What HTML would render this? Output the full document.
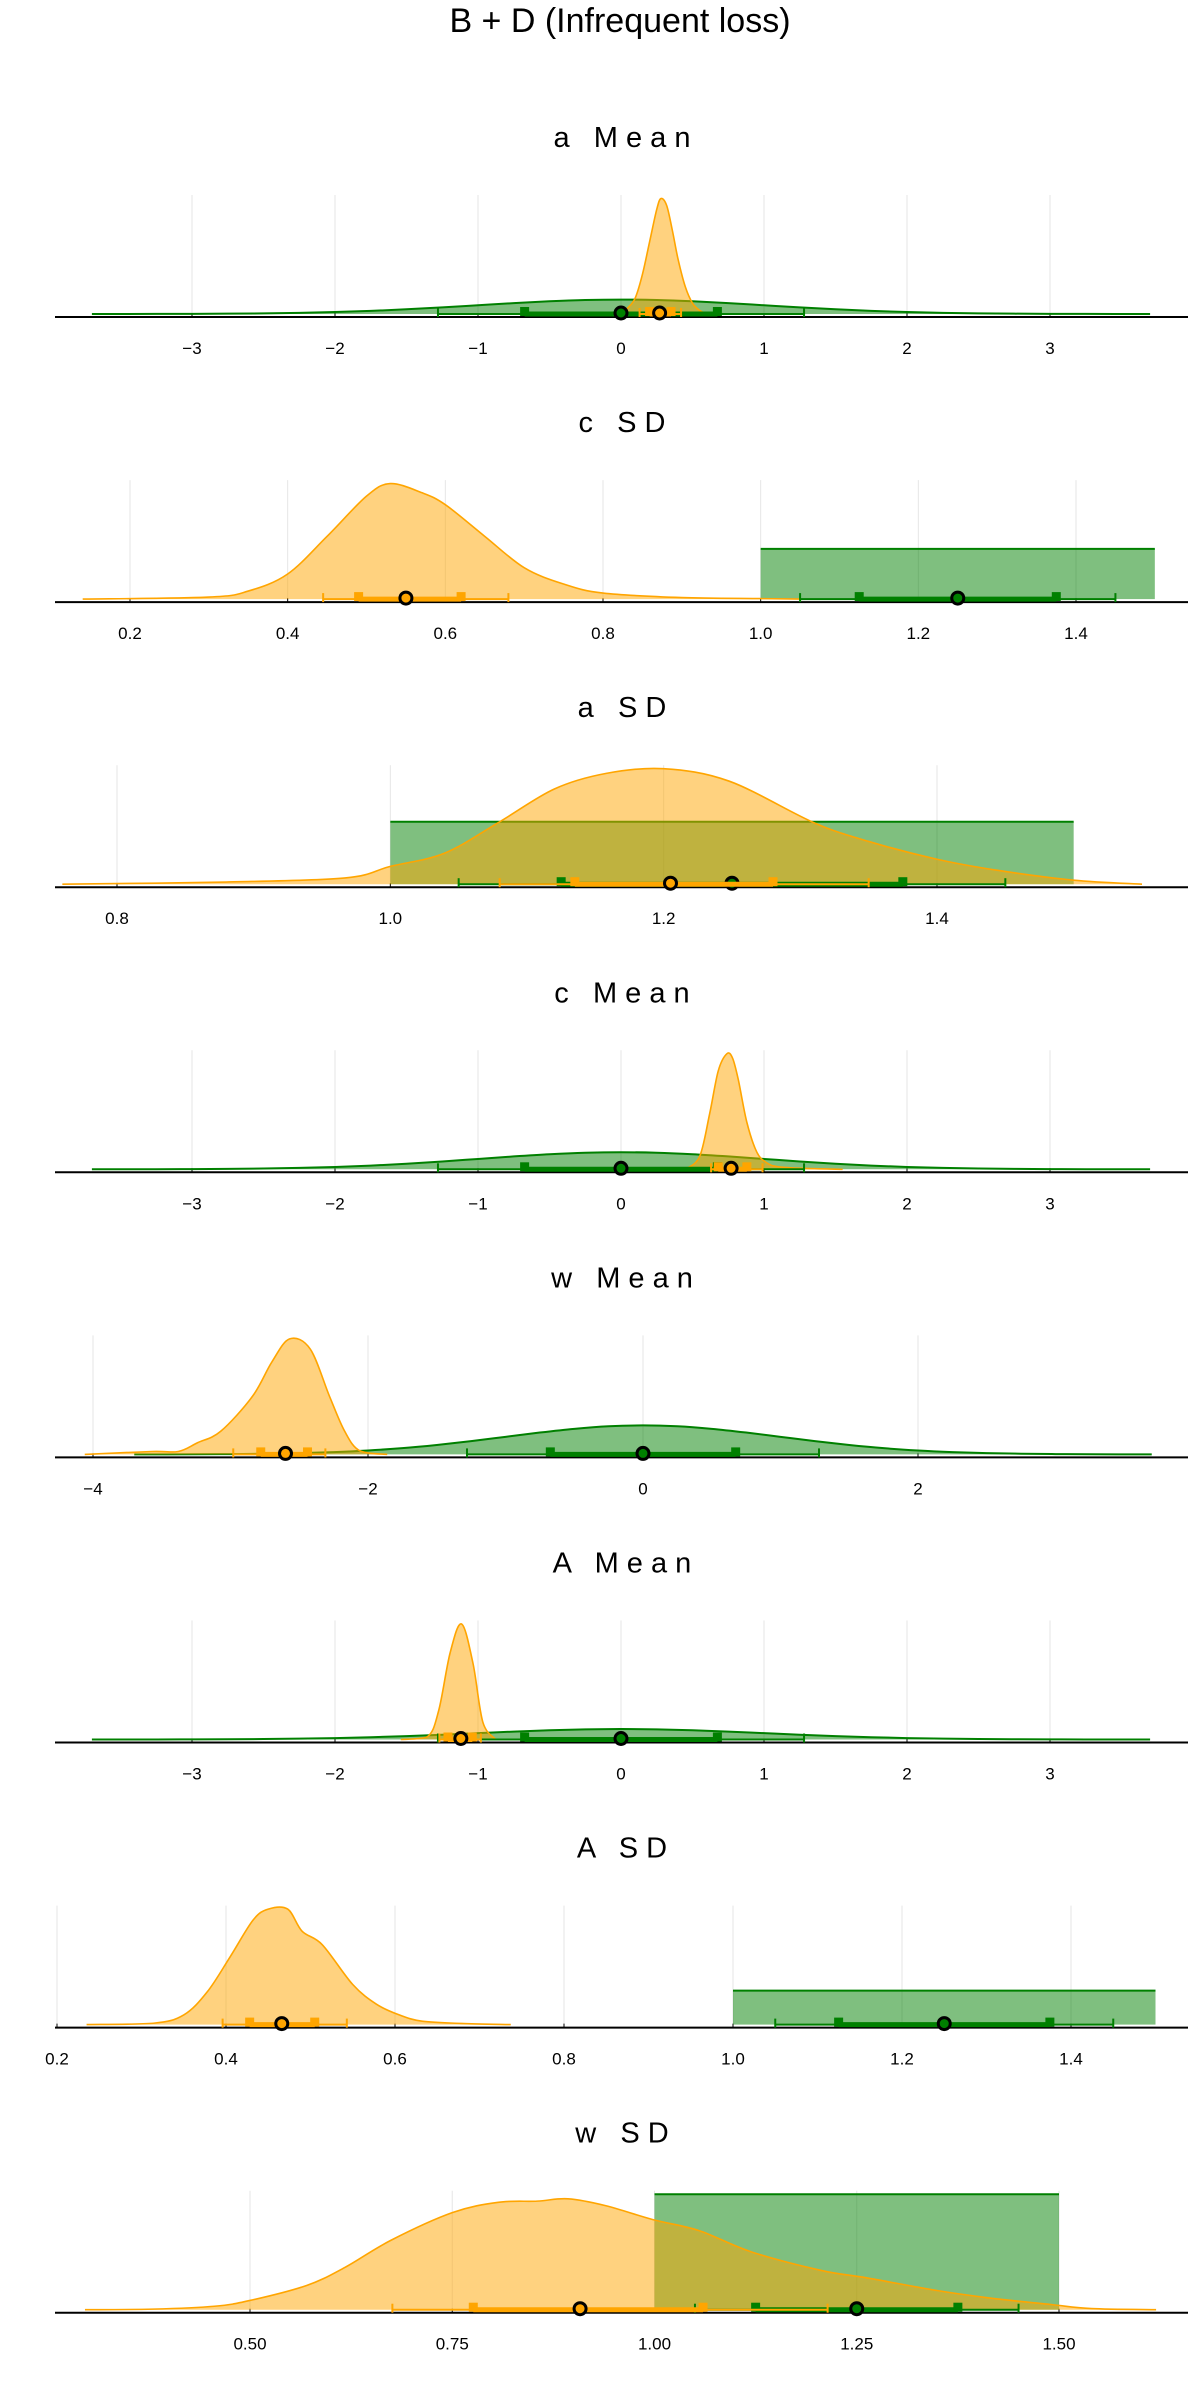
<!DOCTYPE html>
<html><head><meta charset="utf-8"><style>
html,body{margin:0;padding:0;background:#fff;}
svg{display:block;font-family:"Liberation Sans",sans-serif;}
svg text{white-space:pre;}
</style></head><body>
<svg id="chart" width="1200" height="2400" viewBox="0 0 1200 2400" xmlns="http://www.w3.org/2000/svg">
<text x="620" y="32" font-size="34" text-anchor="middle" fill="#000">B + D (Infrequent loss)</text>
</svg>
<script>
// ---- data ----
const panelTitles = ["a   M e a n","c   S D","a   S D","c   M e a n","w   M e a n","A   M e a n","A   S D","w   S D"];
const priorKinds = ["normal","uniform","uniform","normal","normal","normal","uniform","uniform"];
const tickLabels = [
 ["−3","−2","−1","0","1","2","3"],
 ["0.2","0.4","0.6","0.8","1.0","1.2","1.4"],
 ["0.8","1.0","1.2","1.4"],
 ["−3","−2","−1","0","1","2","3"],
 ["−4","−2","0","2"],
 ["−3","−2","−1","0","1","2","3"],
 ["0.2","0.4","0.6","0.8","1.0","1.2","1.4"],
 ["0.50","0.75","1.00","1.25","1.50"]
];
const tickValues = [
 [-3,-2,-1,0,1,2,3],[0.2,0.4,0.6,0.8,1.0,1.2,1.4],[0.8,1.0,1.2,1.4],[-3,-2,-1,0,1,2,3],
 [-4,-2,0,2],[-3,-2,-1,0,1,2,3],[0.2,0.4,0.6,0.8,1.0,1.2,1.4],[0.5,0.75,1.0,1.25,1.5]
];
// normal prior density (standard normal)
const normalX = [-3.7,-3.25,-3,-2.75,-2.5,-2.25,-2,-1.75,-1.5,-1.25,-1,-0.75,-0.5,-0.25,0,0.25,0.5,0.75,1,1.25,1.5,1.75,2,2.25,2.5,2.75,3,3.25,3.7];
const normalY = [0.0004,0.002,0.0044,0.009,0.0175,0.032,0.054,0.086,0.130,0.183,0.242,0.301,0.352,0.387,0.399,0.387,0.352,0.301,0.242,0.183,0.130,0.086,0.054,0.032,0.0175,0.009,0.0044,0.002,0.0004];
// uniform prior 1..1.5
const uniformRange = [1.0,1.5];
const uniformHeight = 2;
const priorNormalIntervals = {thin:[-1.28,1.28], thick:[-0.674,0.674], median:0};
const priorUniformIntervals = {thin:[1.05,1.45], thick:[1.125,1.375], median:1.25};
// posterior densities
const postX = [
 [-0.05,0.0,0.05,0.1,0.15,0.2,0.25,0.28,0.32,0.36,0.4,0.45,0.5,0.55,0.6],
 [0.14,0.3,0.35,0.4,0.45,0.5,0.53,0.57,0.6,0.65,0.7,0.75,0.8,0.9,1.0,1.05],
 [0.76,0.88,0.967,1.0,1.04,1.08,1.12,1.158,1.2,1.248,1.31,1.35,1.4,1.445,1.5,1.55],
 [0.45,0.55,0.62,0.68,0.74,0.78,0.82,0.88,0.95,1.02,1.1,1.3,1.55],
 [-4.06,-3.57,-3.38,-3.24,-3.07,-2.84,-2.7,-2.57,-2.42,-2.28,-2.17,-2.06,-1.86],
 [-1.54,-1.355,-1.275,-1.195,-1.115,-1.035,-0.966,-0.875],
 [0.235,0.314,0.35,0.378,0.405,0.432,0.45,0.473,0.49,0.514,0.55,0.578,0.605,0.632,0.678,0.737],
 [0.296,0.38,0.456,0.5,0.57,0.617,0.674,0.75,0.807,0.855,0.893,0.94,0.998,1.055,1.12,1.206,1.263,1.35,1.416,1.49,1.54,1.62]
];
const postY = [
 [0.0,0.03,0.18,0.45,1.1,2.0,2.9,3.2,3.0,2.3,1.5,0.75,0.3,0.1,0.0],
 [0.0,0.08,0.32,1.0,2.5,4.1,4.6,4.24,3.76,2.5,1.25,0.6,0.24,0.06,0.02,0.0],
 [0.0,0.07,0.2,0.57,1.0,2.0,3.05,3.55,3.7,3.3,1.97,1.37,0.8,0.44,0.13,0.0],
 [0.0,0.3,1.3,2.3,2.7,2.6,2.1,1.1,0.4,0.15,0.06,0.02,0.0],
 [0.0,0.04,0.04,0.16,0.32,0.8,1.27,1.59,1.45,0.8,0.32,0.05,0.0],
 [0.0,0.1,1.1,3.3,4.4,2.9,0.66,0.0],
 [0.0,0.08,0.57,1.94,4.0,6.15,6.8,6.8,5.5,4.7,2.36,1.2,0.57,0.2,0.07,0.0],
 [0.0,0.01,0.06,0.16,0.42,0.73,1.2,1.68,1.86,1.88,1.92,1.8,1.56,1.37,1.0,0.68,0.55,0.33,0.2,0.09,0.02,0.0]
];
const postThin = [[0.13,0.42],[0.445,0.68],[1.08,1.35],[0.63,0.99],[-2.98,-2.31],[-1.27,-0.98],[0.396,0.543],[0.676,1.214]];
const postThick = [[0.2,0.35],[0.49,0.62],[1.135,1.28],[0.68,0.88],[-2.78,-2.44],[-1.21,-1.04],[0.428,0.505],[0.776,1.06]];
const postMedian = [0.27,0.55,1.205,0.77,-2.6,-1.12,0.466,0.908];
// axis calibration: two reference values and their pixel positions
const calibVals = [[0,1],[0.2,1.4],[0.8,1.4],[0,1],[0,2],[0,1],[0.2,1.4],[0.5,1.5]];
const calibPx = [[621,764],[130,1076],[117,937],[621,764],[643,918],[621,764],[57,1071],[250,1059]];

// ---- drawing ----
const svg = document.getElementById('chart');
const NS = 'http://www.w3.org/2000/svg';
function mk(tag, attrs){ const e=document.createElementNS(NS,tag); for(const k in attrs) e.setAttribute(k,attrs[k]); return e; }
let curBase = 0;
function smooth(pts){
  let d = 'M'+pts[0][0]+','+pts[0][1];
  for(let i=0;i<pts.length-1;i++){
    const p0=pts[Math.max(0,i-1)], p1=pts[i], p2=pts[i+1], p3=pts[Math.min(pts.length-1,i+2)];
    const c1x=p1[0]+(p2[0]-p0[0])/6, c1y=p1[1]+(p2[1]-p0[1])/6;
    const c2x=p2[0]-(p3[0]-p1[0])/6, c2y=p2[1]-(p3[1]-p1[1])/6;
    d += ' C'+c1x+','+Math.min(c1y,curBase)+' '+c2x+','+Math.min(c2y,curBase)+' '+p2[0]+','+p2[1];
  }
  return d;
}

for(let i=0;i<8;i++){
  const axisY = 317 + i*285.1;
  const baseY = axisY - 3;
  const gridTop = axisY - 122;
  const [v0,v1] = calibVals[i], [p0,p1] = calibPx[i];
  const xs = v => p0 + (v - v0) * (p1 - p0) / (v1 - v0);
  const isNormal = priorKinds[i] === 'normal';
  const priorMax = isNormal ? Math.max(...normalY) : uniformHeight;
  const maxD = Math.max(priorMax, ...postY[i]);
  const ys = d => baseY - d * 115.5 / maxD;
  curBase = baseY;

  const g = mk('g', {});
  
  
  svg.appendChild(g);

  const t = mk('text', {x:622, y:axisY-170, 'font-size':29, 'text-anchor':'middle', fill:'#000'});
  
  
  t.setAttributeNS('http://www.w3.org/XML/1998/namespace', 'xml:space', 'preserve');
  t.textContent = panelTitles[i];
  g.appendChild(t);

  tickValues[i].forEach((tv, k) => {
    const x = xs(tv);
    const gl = mk('line', {x1:x, x2:x, y1:gridTop, y2:axisY, stroke:'#000', 'stroke-opacity':0.1, 'stroke-width':1});
    
    
    g.appendChild(gl);
    const tk = mk('line', {x1:x, x2:x, y1:axisY-4, y2:axisY, stroke:'#000', 'stroke-width':1});
    
    
    g.appendChild(tk);
    const tl = mk('text', {x:x, y:axisY+37, 'font-size':17, 'text-anchor':'middle', fill:'#000'});
    
    
    tl.textContent = tickLabels[i][k];
    g.appendChild(tl);
  });

  if(isNormal){
    const pts = normalX.map((x,k)=>[xs(x), ys(normalY[k])]);
    const path = smooth(pts);
    const f = mk('path', {d: path + ' L'+pts[pts.length-1][0]+','+baseY+' L'+pts[0][0]+','+baseY+' Z', fill:'#008000', 'fill-opacity':0.5, stroke:'none'});
    
    
    g.appendChild(f);
    const l = mk('path', {d: path, fill:'none', stroke:'#008000', 'stroke-width':2});
    
    
    g.appendChild(l);
  } else {
    const x0 = xs(uniformRange[0]), x1 = xs(uniformRange[1]), yt = ys(uniformHeight);
    const r = mk('rect', {x:x0, y:yt, width:x1-x0, height:baseY-yt, fill:'#008000', 'fill-opacity':0.5});
    
    
    g.appendChild(r);
    const l = mk('line', {x1:x0, x2:x1, y1:yt, y2:yt, stroke:'#008000', 'stroke-width':2});
    
    
    g.appendChild(l);
  }

  {
    const pts = postX[i].map((x,k)=>[xs(x), ys(postY[i][k])]);
    const path = smooth(pts);
    const f = mk('path', {d: path + ' L'+pts[pts.length-1][0]+','+baseY+' L'+pts[0][0]+','+baseY+' Z', fill:'#FFA500', 'fill-opacity':0.5, stroke:'none'});
    
    
    g.appendChild(f);
    const l = mk('path', {d: path, fill:'none', stroke:'#FFA500', 'stroke-width':1.6});
    
    
    g.appendChild(l);
  }

  const ax = mk('line', {x1:55, x2:1188, y1:axisY, y2:axisY, stroke:'#000', 'stroke-width':2});
  
  
  g.appendChild(ax);

  function intervals(thin, thick, med, color, nm){
    const a = mk('line', {x1:xs(thin[0]), x2:xs(thin[1]), y1:baseY, y2:baseY, stroke:color, 'stroke-width':2});
    
    
    g.appendChild(a);
    thin.forEach(v => {
      const c = mk('line', {x1:xs(v), x2:xs(v), y1:baseY-6, y2:baseY+3, stroke:color, 'stroke-width':2});
      
      
      g.appendChild(c);
    });
    const b = mk('line', {x1:xs(thick[0]), x2:xs(thick[1]), y1:baseY, y2:baseY, stroke:color, 'stroke-width':5});
    
    
    g.appendChild(b);
    thick.forEach(v => {
      const s = mk('rect', {x:xs(v)-4.5, y:baseY-7, width:9, height:9, fill:color});
      
      
      g.appendChild(s);
    });
    const m = mk('circle', {cx:xs(med), cy:baseY-1, r:6, fill:color, stroke:'#000', 'stroke-width':3});
    
    
    g.appendChild(m);
  }
  const pi = isNormal ? priorNormalIntervals : priorUniformIntervals;
  intervals(pi.thin, pi.thick, pi.median, '#008000', 'prior');
  intervals(postThin[i], postThick[i], postMedian[i], '#FFA500', 'posterior');
}
</script>
</body></html>
